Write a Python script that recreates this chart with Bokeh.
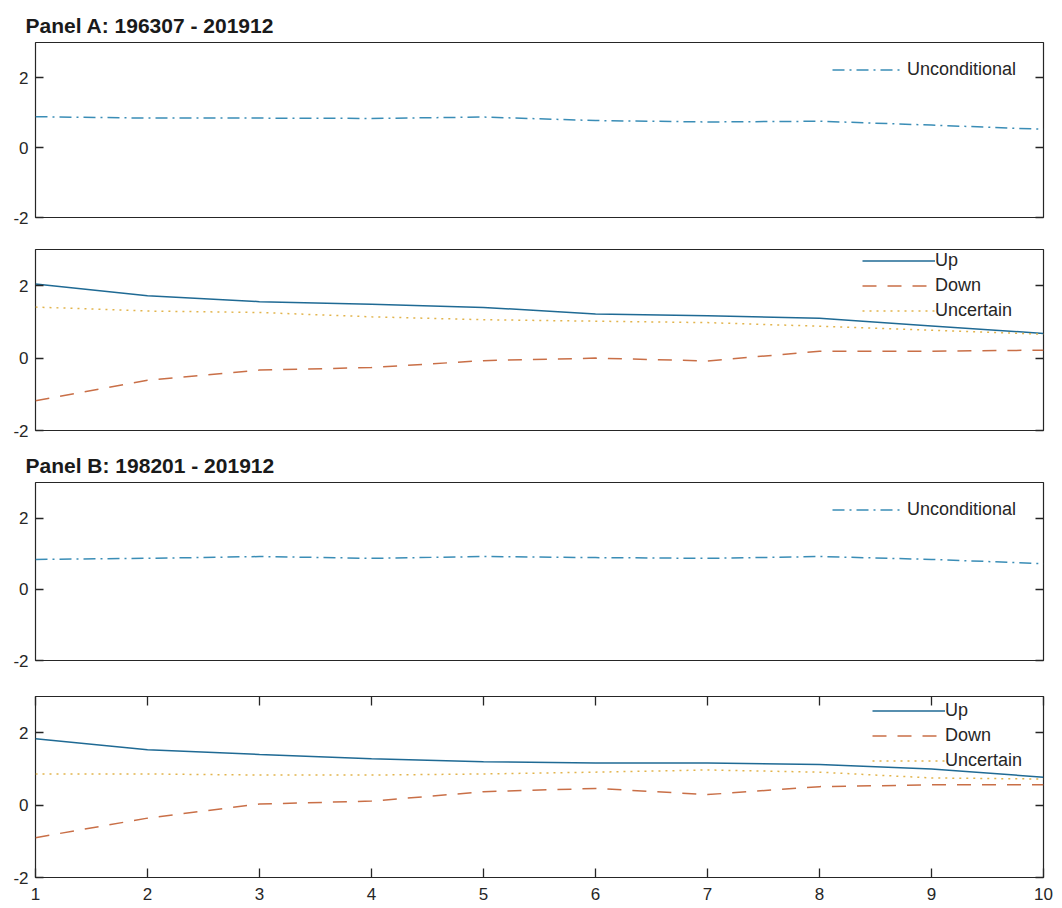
from bokeh.plotting import figure
from bokeh.layouts import column
from bokeh.models import (Range1d, LinearAxis, FixedTicker, Legend, LegendItem)
from bokeh.embed import file_html
from bokeh.resources import INLINE

# ---------------- data ----------------
horizon = [1, 2, 3, 4, 5, 6, 7, 8, 9, 10]
y_ticks = [-2, 0, 2]
y_tick_labels = {-2: "-2", 0: "0", 2: "2"}
x_tick_labels = {k: str(k) for k in horizon}

panelA_title = "Panel A: 196307 - 201912"
panelB_title = "Panel B: 198201 - 201912"

# Panel A (196307 - 201912)
a_uncond = [0.88, 0.84, 0.84, 0.83, 0.87, 0.77, 0.73, 0.75, 0.64, 0.52]
a_up = [2.05, 1.72, 1.56, 1.49, 1.40, 1.22, 1.17, 1.10, 0.89, 0.68]
a_down = [-1.18, -0.61, -0.33, -0.26, -0.07, 0.00, -0.08, 0.19, 0.19, 0.22]
a_uncertain = [1.41, 1.30, 1.26, 1.14, 1.06, 1.02, 0.98, 0.88, 0.77, 0.66]

# Panel B (198201 - 201912)
b_uncond = [0.84, 0.87, 0.92, 0.87, 0.92, 0.89, 0.87, 0.92, 0.84, 0.72]
b_up = [1.83, 1.53, 1.40, 1.28, 1.20, 1.16, 1.16, 1.12, 1.00, 0.77]
b_down = [-0.90, -0.36, 0.03, 0.11, 0.37, 0.46, 0.29, 0.51, 0.56, 0.56]
b_uncertain = [0.86, 0.86, 0.83, 0.83, 0.86, 0.91, 0.97, 0.91, 0.75, 0.72]

# ---------------- styles ----------------
FONT = "Liberation Sans"
INK = "#262626"
C_UNCOND = "#3a8db6"
C_UP = "#1f6a94"
C_DOWN = "#c96f47"
C_UNC = "#e2b44c"


def labelled_axis(ticks, overrides, tick_in, standoff):
    return LinearAxis(ticker=FixedTicker(ticks=ticks),
                      major_label_overrides=overrides,
                      major_tick_in=tick_in, major_tick_out=0,
                      minor_tick_in=0, minor_tick_out=0,
                      axis_line_color=None,
                      major_tick_line_color=INK, major_tick_line_width=1.3,
                      major_label_text_font=FONT,
                      major_label_text_font_size="17px",
                      major_label_text_color=INK,
                      major_label_standoff=standoff)


def mirror_axis(ticks, tick_in):
    # tick marks only (MATLAB box style); labels are not painted
    return LinearAxis(ticker=FixedTicker(ticks=ticks),
                      major_tick_in=tick_in, major_tick_out=0,
                      minor_tick_in=0, minor_tick_out=0,
                      major_tick_line_color=INK, major_tick_line_width=1.3,
                      axis_line_color=None,
                      major_label_text_color=None,
                      major_label_text_font_size="1px",
                      major_label_standoff=0)


def make_fig(height, top, bottom, title=None, xticks=False):
    p = figure(width=1054, height=height,
               x_range=Range1d(1, 10), y_range=Range1d(-2, 3),
               x_axis_type=None, y_axis_type=None,
               output_backend="svg", toolbar_location=None,
               min_border_left=35, min_border_right=11,
               min_border_top=top, min_border_bottom=bottom,
               background_fill_color="white", border_fill_color="white")
    p.grid.visible = False
    p.outline_line_color = INK
    p.outline_line_width = 1.2
    p.add_layout(labelled_axis(y_ticks, y_tick_labels, 8, 7), "left")
    p.add_layout(mirror_axis(y_ticks, 8), "right")
    if xticks:
        p.add_layout(labelled_axis(horizon, x_tick_labels, 9, 10), "below")
        p.add_layout(mirror_axis(horizon, 9), "above")
    if title:
        p.title.text = title
        p.title.text_font = FONT
        p.title.text_font_size = "21px"
        p.title.text_font_style = "bold"
        p.title.text_color = "#1a1a1a"
        p.title.align = "left"
        p.title.offset = -10
        p.title.standoff = 12
    return p


def add_legend(p, items, margin, label_width, glyph_width, standoff):
    lg = Legend(items=items, location="top_right",
                margin=margin, padding=0,
                glyph_width=glyph_width, glyph_height=21,
                label_height=21, label_width=label_width,
                label_standoff=standoff, spacing=4,
                border_line_color=None, background_fill_alpha=0,
                label_text_font=FONT, label_text_font_size="18px",
                label_text_color=INK)
    p.add_layout(lg)


def uncond_panel(p, vals):
    r = p.line(horizon, vals, line_color=C_UNCOND, line_width=1.5,
               line_dash="12 5 2 5")
    add_legend(p, [LegendItem(label="Unconditional", renderers=[r])],
               margin=17, label_width=119, glyph_width=72, standoff=3)


def cond_panel(p, up, down, unc, margin, label_width, glyph_width, standoff):
    r_up = p.line(horizon, up, line_color=C_UP, line_width=1.5)
    r_dn = p.line(horizon, down, line_color=C_DOWN, line_width=1.5,
                  line_dash="14 11")
    r_un = p.line(horizon, unc, line_color=C_UNC, line_width=1.5,
                  line_dash="2 5")
    add_legend(p, [LegendItem(label="Up", renderers=[r_up]),
                   LegendItem(label="Down", renderers=[r_dn]),
                   LegendItem(label="Uncertain", renderers=[r_un])],
               margin=margin, label_width=label_width,
               glyph_width=glyph_width, standoff=standoff)


f1 = make_fig(232, 42, 15, title=panelA_title)
uncond_panel(f1, a_uncond)

f2 = make_fig(213, 17, 15)
cond_panel(f2, a_up, a_down, a_uncertain, margin=1, label_width=107,
           glyph_width=73, standoff=0)

f3 = make_fig(233, 37, 18, title=panelB_title)
uncond_panel(f3, b_uncond)

f4 = make_fig(229, 18, 30, xticks=True)
cond_panel(f4, b_up, b_down, b_uncertain, margin=4, label_width=94,
           glyph_width=73, standoff=0)

layout = column(f1, f2, f3, f4, spacing=0)

open("out.html", "w").write(file_html(layout, INLINE))
